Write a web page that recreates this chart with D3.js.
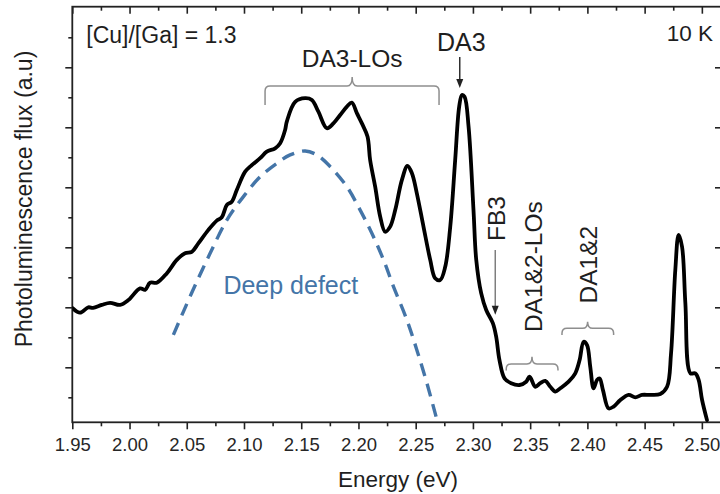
<!DOCTYPE html>
<html>
<head>
<meta charset="utf-8">
<script src="https://cdn.jsdelivr.net/npm/d3@7"></script>
<style>
  html, body { margin: 0; padding: 0; background: #fff; }
  svg { display: block; font-family: "Liberation Sans", Arial, sans-serif; }
</style>
</head>
<body>
<script>
// Photoluminescence spectrum at 10 K, [Cu]/[Ga] = 1.3
const energy = [
  1.9500, 1.9567, 1.9640, 1.9681, 1.9757, 1.9830, 1.9917, 1.9990, 2.0092, 2.0136,
  2.0179, 2.0238, 2.0325, 2.0413, 2.0485, 2.0544, 2.0601, 2.0689, 2.0762, 2.0806,
  2.0850, 2.0893, 2.0937, 2.1010, 2.1068, 2.1141, 2.1199, 2.1272, 2.1316, 2.1359,
  2.1374, 2.1447, 2.1534, 2.1593, 2.1650, 2.1724, 2.1781, 2.1840, 2.1899, 2.1942,
  2.1986, 2.2030, 2.2079, 2.2102, 2.2146, 2.2190, 2.2233, 2.2277, 2.2321, 2.2379,
  2.2428, 2.2467, 2.2510, 2.2568, 2.2627, 2.2670, 2.2714, 2.2758, 2.2802, 2.2845,
  2.2880, 2.2904, 2.2927, 2.2962, 2.3005, 2.3029, 2.3072, 2.3116, 2.3174, 2.3203,
  2.3232, 2.3276, 2.3334, 2.3407, 2.3465, 2.3495, 2.3545, 2.3588, 2.3632, 2.3676,
  2.3720, 2.3763, 2.3836, 2.3894, 2.3932, 2.3967, 2.3997, 2.4025, 2.4054, 2.4084,
  2.4107, 2.4136, 2.4185, 2.4229, 2.4288, 2.4360, 2.4419, 2.4477, 2.4550, 2.4637,
  2.4696, 2.4731, 2.4768, 2.4797, 2.4827, 2.4856, 2.4900, 2.4943, 2.4972, 2.5002,
  2.5045
];
const flux = [
  3.98, 3.82, 4.00, 3.98, 4.08, 4.15, 4.08, 4.24, 4.63, 4.58,
  4.82, 4.82, 5.13, 5.58, 5.80, 5.85, 6.13, 6.58, 6.89, 7.00,
  7.41, 7.52, 7.91, 8.52, 8.74, 8.97, 9.19, 9.30, 9.47, 9.91,
  10.19, 10.85, 10.97, 10.91, 10.52, 9.97, 10.13, 10.41, 10.69, 10.82,
  10.47, 10.13, 9.69, 8.91, 8.02, 7.02, 6.52, 6.69, 7.24, 8.24,
  8.71, 8.47, 7.80, 6.69, 5.58, 4.97, 4.91, 5.35, 6.69, 8.91,
  10.69, 11.08, 11.02, 10.02, 7.24, 5.58, 4.47, 3.91, 3.47, 3.02,
  2.24, 1.63, 1.47, 1.41, 1.52, 1.69, 1.35, 1.47, 1.55, 1.35,
  1.19, 1.30, 1.52, 1.80, 2.24, 2.85, 2.74, 2.02, 1.30, 1.58,
  1.63, 1.24, 0.63, 0.69, 0.91, 1.08, 1.00, 1.08, 1.08, 1.11,
  1.35, 2.47, 5.24, 6.41, 6.02, 4.13, 1.80, 1.80, 1.58, 0.91,
  0.24
];

// Deep-defect emission band
const defectEnergy = [
  2.0383, 2.0470, 2.0587, 2.0704, 2.0850, 2.0995, 2.1141, 2.1287, 2.1403, 2.1534,
  2.1636, 2.1753, 2.1899, 2.2015, 2.2117, 2.2219, 2.2306, 2.2423, 2.2510, 2.2598,
  2.2688
];
const defectFlux = [
  3.08, 3.85, 4.85, 5.80, 6.91, 7.69, 8.35, 8.80, 9.08, 9.21,
  9.08, 8.69, 8.02, 7.24, 6.47, 5.58, 4.69, 3.58, 2.58, 1.47,
  0.21
];

// Axis ticks
const xMajorTicks = [1.95, 2.00, 2.05, 2.10, 2.15, 2.20, 2.25, 2.30, 2.35, 2.40, 2.45, 2.50];
const xMinorTicks = [1.975, 2.025, 2.075, 2.125, 2.175, 2.225, 2.275, 2.325, 2.375, 2.425, 2.475];
const yMajorTicks = [2, 4, 6, 8, 10, 12];
const yMinorTicks = [1, 3, 5, 7, 9, 11, 13];

// Peak assignments
const bracketLabels = [
  { name: "DA3-LOs",   from: 2.1184, to: 2.2704, mid: 2.1945, arm: 10.74, bar: 11.38, tip: 11.68 },
  { name: "DA1&2-LOs", from: 2.3291, to: 2.3743, mid: 2.3516, arm: 1.89,  bar: 2.11,  tip: 2.35 },
  { name: "DA1&2",     from: 2.3778, to: 2.4229, mid: 2.4002, arm: 3.08,  bar: 3.30,  tip: 3.52 }
];

const W = 720, H = 494;
const plot = { left: 72.3, right: 722, top: 6.7, bottom: 422.3 };

const svg = d3.select("body").append("svg")
  .attr("width", W).attr("height", H)
  .attr("viewBox", `0 0 ${W} ${H}`);

const x = d3.scaleLinear().domain([1.95, 2.5176]).range([plot.left, plot.right]);
const y = d3.scaleLinear().domain([0.167, 14.02]).range([plot.bottom, plot.top]);

const axisColor = "#222";
const textColor = "#1e1e1e";
const blue = "#4475a8";
const gray = "#8e8e8e";

svg.append("defs").append("clipPath").attr("id", "plot-clip")
  .append("rect")
  .attr("x", plot.left).attr("y", plot.top)
  .attr("width", plot.right - plot.left).attr("height", plot.bottom - plot.top);

function styleAxis(g) {
  g.selectAll("path.domain").remove();
  g.selectAll(".tick line").attr("stroke", axisColor).attr("stroke-width", 1.6);
  g.selectAll(".tick text").attr("fill", "#262626")
    .style("font-size", "18.5px").style("font-family", '"Liberation Sans", Arial, sans-serif');
}

// Bottom axis
svg.append("g").attr("transform", `translate(0,${plot.bottom})`)
  .call(d3.axisBottom(x).tickValues(xMajorTicks).tickSize(7).tickPadding(9)
    .tickFormat(d3.format(".2f")))
  .call(styleAxis);
svg.append("g").attr("transform", `translate(0,${plot.bottom})`)
  .call(d3.axisBottom(x).tickValues(xMinorTicks).tickSize(4).tickFormat(""))
  .call(styleAxis);

// Top axis (ticks pointing inward)
svg.append("g").attr("transform", `translate(0,${plot.top})`)
  .call(d3.axisTop(x).tickValues(xMajorTicks).tickSize(-7).tickFormat(""))
  .call(styleAxis);
svg.append("g").attr("transform", `translate(0,${plot.top})`)
  .call(d3.axisTop(x).tickValues(xMinorTicks).tickSize(-4).tickFormat(""))
  .call(styleAxis);

// Left axis (no labels, arbitrary units)
svg.append("g").attr("transform", `translate(${plot.left},0)`)
  .call(d3.axisLeft(y).tickValues(yMajorTicks).tickSize(7).tickFormat(""))
  .call(styleAxis);
svg.append("g").attr("transform", `translate(${plot.left},0)`)
  .call(d3.axisLeft(y).tickValues(yMinorTicks).tickSize(4).tickFormat(""))
  .call(styleAxis);

// Right axis
svg.append("g").attr("transform", `translate(${plot.right},0)`)
  .call(d3.axisRight(y).tickValues(yMajorTicks).tickSize(-7).tickFormat(""))
  .call(styleAxis);

// Frame
svg.append("rect")
  .attr("x", plot.left).attr("y", plot.top)
  .attr("width", plot.right - plot.left).attr("height", plot.bottom - plot.top)
  .attr("fill", "none").attr("stroke", axisColor).attr("stroke-width", 1.8);

// Deep defect band (dashed)
const defectLine = d3.line()
  .x((d, i) => x(defectEnergy[i])).y(d => y(d))
  .curve(d3.curveCatmullRom.alpha(0.5));
svg.append("path")
  .attr("clip-path", "url(#plot-clip)")
  .attr("d", defectLine(defectFlux))
  .attr("fill", "none").attr("stroke", blue)
  .attr("stroke-width", 3.4).attr("stroke-dasharray", "13 8");

// Measured spectrum
const specLine = d3.line()
  .x((d, i) => x(energy[i])).y(d => y(d))
  .curve(d3.curveCatmullRom.alpha(0.5));
svg.append("path")
  .attr("clip-path", "url(#plot-clip)")
  .attr("d", specLine(flux))
  .attr("fill", "none").attr("stroke", "#000")
  .attr("stroke-width", 3.8).attr("stroke-linejoin", "round").attr("stroke-linecap", "round");

// Brackets
function bracketPath(b) {
  const x1 = x(b.from), x2 = x(b.to), xc = x(b.mid);
  const ya = y(b.arm), yb = y(b.bar), yt = y(b.tip);
  const r = 5;
  return `M${x1},${ya} L${x1},${yb + r} Q${x1},${yb} ${x1 + r},${yb} ` +
         `L${xc - r},${yb} Q${xc},${yb} ${xc},${yt} Q${xc},${yb} ${xc + r},${yb} ` +
         `L${x2 - r},${yb} Q${x2},${yb} ${x2},${yb + r} L${x2},${ya}`;
}
svg.append("g").selectAll("path").data(bracketLabels).join("path")
  .attr("d", bracketPath)
  .attr("fill", "none").attr("stroke", gray).attr("stroke-width", 1.5);

// Arrows
function arrow(xv, y0, y1, lineColor) {
  const px = x(xv), p0 = y(y0), p1 = y(y1);
  svg.append("line")
    .attr("x1", px).attr("x2", px).attr("y1", p0).attr("y2", p1 - 7)
    .attr("stroke", lineColor).attr("stroke-width", 1.4);
  svg.append("path")
    .attr("d", `M${px - 3.5},${p1 - 9} L${px + 3.5},${p1 - 9} L${px},${p1} Z`)
    .attr("fill", "#222");
}
arrow(2.2885, 12.34, 11.31, "#222");
arrow(2.3195, 5.91, 3.75, "#777");

// Text labels
const label = (txt, px, py, opts = {}) => {
  const t = svg.append("text")
    .attr("x", px).attr("y", py)
    .attr("fill", opts.color || textColor)
    .attr("text-anchor", opts.anchor || "start")
    .style("font-size", (opts.size || 24.5) + "px")
    .text(txt);
  if (opts.rotate) t.attr("transform", `rotate(-90,${px},${py})`);
  return t;
};

label("[Cu]/[Ga] = 1.3", plot.left + 14, 43, { size: 23 });
label("10 K", 713, 41, { anchor: "end", size: 22.5 });
label("DA3-LOs", x(2.1945), y(12.02), { anchor: "middle" });
label("DA3", x(2.2898), y(12.53), { anchor: "middle", size: 25 });
label("FB3", x(2.3282), y(6.21), { rotate: true });
label("DA1&2-LOs", x(2.3601), y(3.18), { rotate: true });
label("DA1&2", x(2.4082), y(4.13), { rotate: true });
label("Deep defect", x(2.0820), y(4.43), { color: blue, size: 25 });

// Axis titles
label("Energy (eV)", 398, 486.5, { anchor: "middle", size: 22.5 });
label("Photoluminescence flux (a.u)", 32, 199, { anchor: "middle", size: 23, rotate: true });
</script>
</body>
</html>
